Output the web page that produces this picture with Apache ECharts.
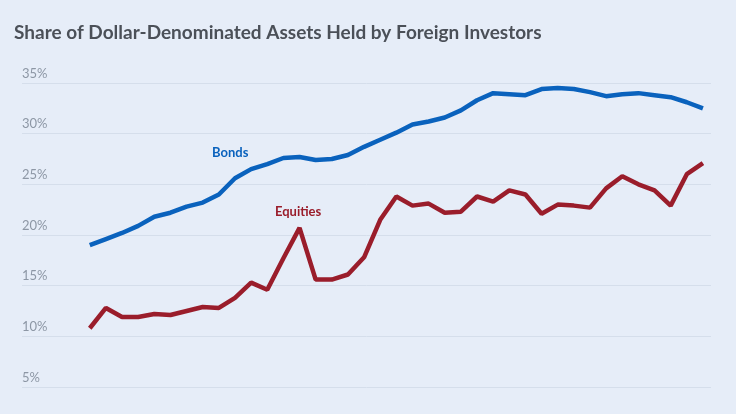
<!DOCTYPE html>
<html>
<head>
<meta charset="utf-8">
<script src="https://cdn.jsdelivr.net/npm/echarts@6/dist/echarts.min.js"></script>
<style>html,body{margin:0;padding:0;background:#e6edf8;}#chart{width:736px;height:414px;}</style>
</head>
<body>
<div id="chart"></div>
<script>
// Valores (% de activos en manos extranjeras)
const bonds = [19.0, 19.6, 20.2, 20.9, 21.8, 22.2, 22.8, 23.2, 24.0, 25.6, 26.5, 27.0, 27.6, 27.7, 27.4, 27.5, 27.9, 28.7, 29.4, 30.1,
    30.9, 31.2, 31.6, 32.3, 33.3, 34.0, 33.9, 33.8, 34.4, 34.5, 34.4, 34.1, 33.7, 33.9, 34.0, 33.8, 33.6, 33.1, 32.5];
const equities = [10.8, 12.8, 11.9, 11.9, 12.2, 12.1, 12.5, 12.9, 12.8, 13.8, 15.3, 14.6, 17.7, 20.7, 15.6, 15.6, 16.1, 17.8, 21.5, 23.8,
    22.9, 23.1, 22.2, 22.3, 23.8, 23.3, 24.4, 24.0, 22.1, 23.0, 22.9, 22.7, 24.6, 25.8, 25.0, 24.4, 22.9, 26.0, 27.1];
const yTicks = [5, 10, 15, 20, 25, 30, 35];

const toPairs = arr => arr.map((v, i) => [i, v]);

const myChart = echarts.init(document.getElementById('chart'));
const option = {
    backgroundColor: '#e6edf8',
    animation: false,
    title: {
        text: 'Share of Dollar-Denominated Assets Held by Foreign Investors',
        left: 9,
        top: 18,
        textStyle: { fontFamily: 'Lato', fontWeight: 'bold', fontSize: 19, color: '#4b5058' }
    },
    grid: { left: 22, right: 25, top: 83, bottom: 27 },
    xAxis: {
        type: 'value',
        min: -4.2,
        max: 38.5,
        show: false
    },
    yAxis: {
        type: 'value',
        min: yTicks[0],
        max: yTicks[yTicks.length - 1],
        interval: 5,
        axisLine: { show: false },
        axisTick: { show: false },
        splitLine: { lineStyle: { color: '#d5deeb', width: 1 } },
        axisLabel: {
            inside: true,
            margin: 0,
            verticalAlign: 'bottom',
            padding: [0, 0, 3, 0],
            formatter: v => v + '%',
            color: '#8d97a5',
            fontFamily: 'Lato',
            fontSize: 13
        }
    },
    graphic: [
        { type: 'text', left: 212, top: 146, style: { text: 'Bonds', fill: '#0a62bd', font: 'bold 13px Lato' } },
        { type: 'text', left: 275, top: 205, style: { text: 'Equities', fill: '#9a1d2b', font: 'bold 13px Lato' } }
    ],
    series: [
        {
            name: 'Bonds',
            type: 'line',
            data: toPairs(bonds),
            symbol: 'none',
            lineStyle: { color: '#0a62bd', width: 4.5 }
        },
        {
            name: 'Equities',
            type: 'line',
            data: toPairs(equities),
            symbol: 'none',
            lineStyle: { color: '#9a1d2b', width: 4.5 }
        }
    ]
};
myChart.setOption(option);
</script>
</body>
</html>
